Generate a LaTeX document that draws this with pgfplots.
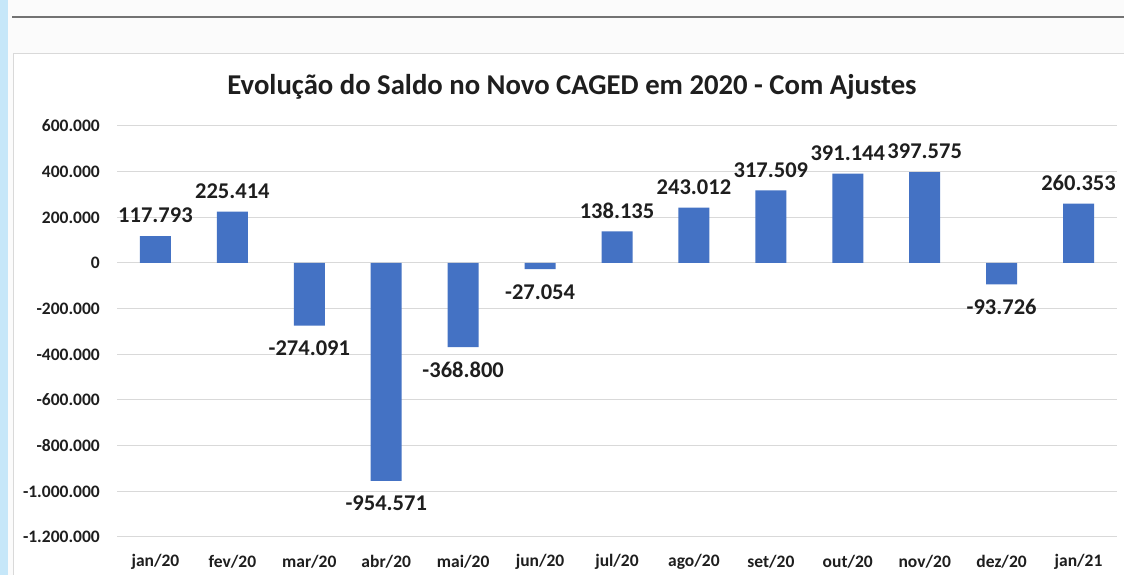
\documentclass[border=0pt]{standalone}
\usepackage{pgfplots}
\pgfplotsset{compat=1.18}
\usepackage{fontspec}
\setmainfont{Carlito}
\definecolor{barblue}{HTML}{4472C4}
\definecolor{gridc}{HTML}{D9D9D9}
\definecolor{strip}{HTML}{C6E7F9}
\definecolor{txt}{HTML}{1E1E1E}
\begin{document}
\begin{tikzpicture}
\path[use as bounding box] (0,0) rectangle (1124pt,575pt);
\fill[white!97!gray] (0,0) rectangle (1124pt,575pt);
\fill[strip] (0,0) rectangle (8pt,575pt);
\draw[black!55, line width=1.5pt] (12pt,558pt) -- (1124pt,558pt);
\filldraw[fill=white, draw=gridc, line width=1pt] (13pt,-5pt) rectangle (1135pt,521pt);
\begin{axis}[
  at={(117pt,38pt)}, anchor=south west,
  scale only axis, width=1000pt, height=411pt,
  xmin=-0.5, xmax=12.5, ymin=-1200000, ymax=600000,
  ybar, bar width=31pt, bar shift=0pt,
  axis line style={draw=none}, major tick length=0pt,
  ymajorgrids, grid style={gridc, line width=1pt},
  xtick={0,...,12},
  xticklabels={jan/20,fev/20,mar/20,abr/20,mai/20,jun/20,jul/20,ago/20,set/20,out/20,nov/20,dez/20,jan/21},
  ytick={-1200000,-1000000,-800000,-600000,-400000,-200000,0,200000,400000,600000},
  yticklabels={-1.200.000,-1.000.000,-800.000,-600.000,-400.000,-200.000,0,200.000,400.000,600.000},
  scaled y ticks=false,
  ticklabel style={font=\bfseries\fontsize{17.5}{20}\selectfont, text=txt},
  yticklabel style={anchor=east, inner sep=0pt, xshift=-17pt},
  xticklabel style={anchor=center, inner sep=0pt, yshift=-25pt},
  title={Evolução do Saldo no Novo CAGED em 2020 - Com Ajustes},
  title style={font=\bfseries\fontsize{28.7}{32}\selectfont, text=txt, at={(0.455,1)}, anchor=center, yshift=33pt},
  point meta=explicit symbolic,
  nodes near coords,
  every node near coord/.append style={font=\bfseries\fontsize{22.5}{26}\selectfont, text=txt, inner sep=0pt},
  clip=false,
]
\addplot[fill=barblue, draw=none, every node near coord/.append style={anchor=south, yshift=13pt}]
  table[meta=label] {
x y label
0 117793 117.793
1 225414 225.414
6 138135 138.135
7 243012 243.012
8 317509 317.509
9 391144 391.144
10 397575 397.575
12 260353 260.353
};
\addplot[fill=barblue, draw=none, every node near coord/.append style={anchor=north, yshift=-15pt}]
  table[meta=label] {
x y label
2 -274091 -274.091
3 -954571 -954.571
4 -368800 -368.800
5 -27054 -27.054
11 -93726 -93.726
};
\end{axis}
\end{tikzpicture}
\end{document}
